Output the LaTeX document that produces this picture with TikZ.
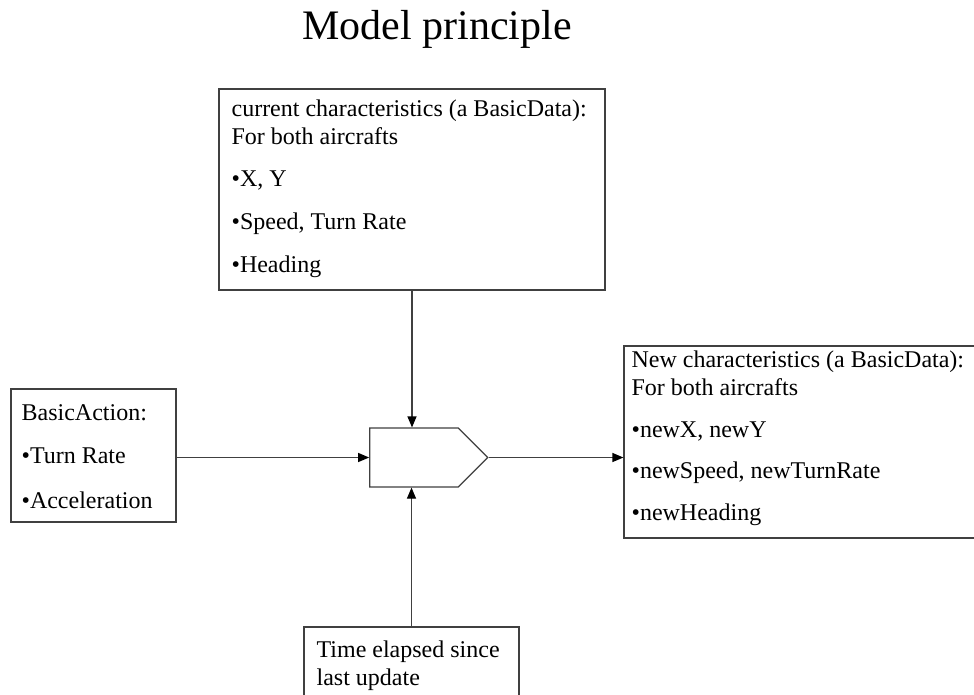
\documentclass[tikz,border=0pt]{standalone}
\usepackage{fontspec}
\setmainfont{Liberation Serif}
\usetikzlibrary{arrows.meta, positioning, shapes.symbols}

\newcommand{\txtsize}{\fontsize{24}{28}\selectfont}

\tikzset{
  box/.style={draw=black!75, line width=1.2pt, rectangle, inner sep=0pt},
  txt/.style={anchor=north west, inner sep=0pt, align=left, font=\txtsize},
  flow/.style={draw=black!75, line width=1.2pt, ->},
}

\begin{document}
\begin{tikzpicture}[x=1pt, y=-1pt, >={Triangle[length=11pt,width=9pt,color=black]}]
  \clip (0,0) rectangle (974,694);
  \fill[white] (0,0) rectangle (974,694);

  \node[anchor=base, font=\fontsize{42}{50}\selectfont] (title) at (437,39) {Model principle};

  % the model block and what goes in and out
  \node[box, signal, signal to=east, signal pointer angle=90, minimum width=118pt, minimum height=59pt] (model) at (414,457.5) {};

  \node[box, minimum width=386pt, minimum height=201pt] (current) at (412,189.5) {};
  \node[txt] (currenttxt) at ([shift={(13,11)}]current.north west)
    {current characteristics (a BasicData):\\
     For both aircrafts\\[14pt]
     •X, Y\\[15pt]
     •Speed, Turn Rate\\[15pt]
     •Heading};

  \node[box, minimum width=165pt, minimum height=133pt] (action) at (93.5,455.5) {};
  \node[txt] (actiontxt) at ([shift={(11,16)}]action.north west)
    {BasicAction:\\[15pt]
     •Turn Rate\\[17pt]
     •Acceleration};

  \node[box, minimum width=366pt, minimum height=192pt] (newchar) at (807,442) {};
  \node[txt] (newchartxt) at ([shift={(8,5)}]newchar.north west)
    {New characteristics (a BasicData):\\
     For both aircrafts\\[14pt]
     •newX, newY\\[13pt]
     •newSpeed, newTurnRate\\[14pt]
     •newHeading};

  \node[box, minimum width=215pt, minimum height=93pt] (elapsed) at (411.5,673.5) {};
  \node[txt] (elapsedtxt) at ([shift={(13,14)}]elapsed.north west)
    {Time elapsed since\\
     last update};

  % connectors
  \path[flow] (current.south) -- (current.south |- model.north);
  \path[flow] (action.east |- model.west) -- (model.west);
  \path[flow] (model.east) -- (newchar.west |- model.east);
  \path[flow] (elapsed.north) -- (elapsed.north |- model.south);
\end{tikzpicture}
\end{document}
